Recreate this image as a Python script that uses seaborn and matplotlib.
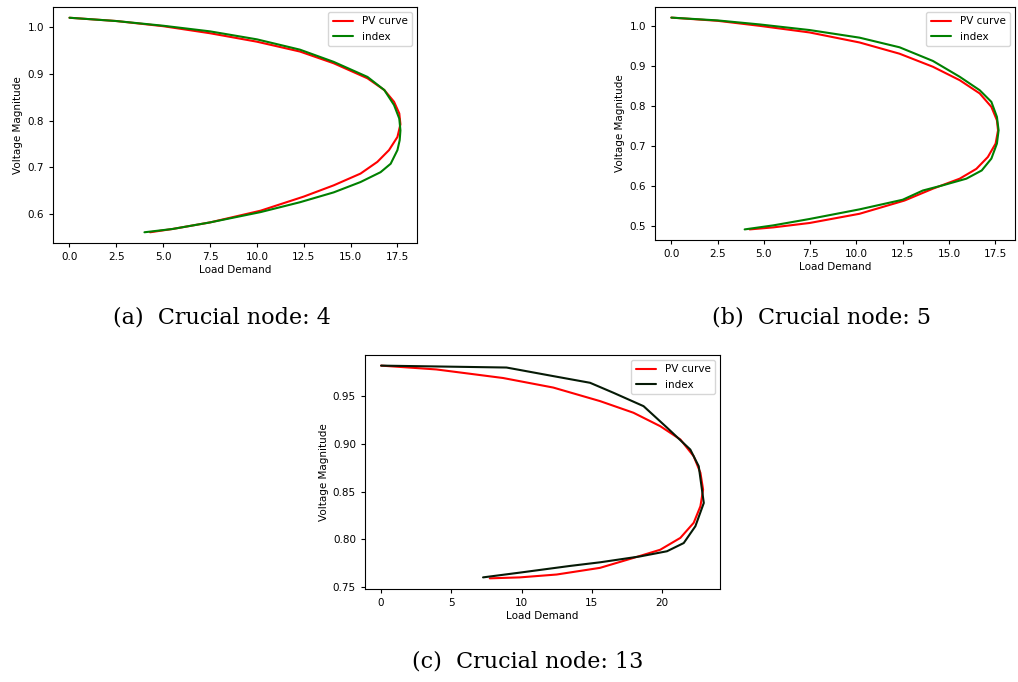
import pandas as pd
import numpy as np
import matplotlib
matplotlib.use("Agg")
import matplotlib.pyplot as plt
import seaborn as sns

# %% data
# (a) crucial node 4
a_pv_x = [0, 2.5, 5.0, 7.5, 10.0, 12.3, 14.1, 15.9, 16.8, 17.32, 17.6, 17.66, 17.5, 17.05, 16.43, 15.53,
          14.1, 12.5, 10.2, 7.5, 5.5, 4.3]
a_pv_y = [1.019, 1.012, 1.001, 0.986, 0.968, 0.947, 0.922, 0.890, 0.865, 0.840, 0.815, 0.792, 0.765, 0.737, 0.712, 0.687,
          0.662, 0.638, 0.608, 0.583, 0.569, 0.562]
a_ix_x = [0, 2.5, 5.0, 7.5, 10.0, 12.3, 14.1, 15.9, 16.8, 17.32, 17.6, 17.66, 17.62, 17.5, 17.14, 16.6,
          15.53, 14.1, 12.3, 10.2, 7.5, 5.5, 4.0]
a_ix_y = [1.019, 1.012, 1.002, 0.990, 0.973, 0.951, 0.925, 0.893, 0.865, 0.833, 0.804, 0.779, 0.758, 0.737, 0.708, 0.690,
          0.669, 0.647, 0.626, 0.605, 0.583, 0.569, 0.562]

# (b) crucial node 5
b_pv_x = [0, 2.5, 4.77, 7.47, 10.17, 12.33, 14.13, 15.58, 16.66, 17.29, 17.59, 17.65, 17.52, 17.1, 16.48, 15.58,
          14.13, 12.6, 10.17, 7.47, 5.5, 4.23]
b_pv_y = [1.02, 1.012, 0.9995, 0.983, 0.958, 0.930, 0.8975, 0.864, 0.831, 0.7975, 0.764, 0.739, 0.706, 0.6725, 0.643, 0.6185,
          0.5935, 0.564, 0.531, 0.508, 0.497, 0.492]
b_ix_x = [0, 2.5, 4.77, 7.47, 10.17, 12.33, 14.13, 15.58, 16.66, 17.29, 17.59, 17.68, 17.59, 17.29, 16.77, 15.94,
          14.67, 13.59, 12.5, 10.17, 7.47, 5.5, 3.96]
b_ix_y = [1.02, 1.013, 1.003, 0.989, 0.970, 0.946, 0.912, 0.8725, 0.839, 0.810, 0.7725, 0.739, 0.706, 0.6685, 0.639, 0.6185,
          0.602, 0.589, 0.566, 0.542, 0.518, 0.502, 0.492]

# (c) crucial node 13
c_pv_x = [0, 3.93, 8.69, 12.26, 15.59, 17.97, 19.88, 21.31, 22.26, 22.74, 22.93, 22.74, 22.26, 21.31, 19.88, 17.97,
          15.59, 12.5, 9.88, 7.74]
c_pv_y = [0.982, 0.978, 0.969, 0.959, 0.9448, 0.9326, 0.9185, 0.9046, 0.887, 0.8696, 0.852, 0.8346, 0.8172, 0.8014, 0.789, 0.7804,
          0.770, 0.763, 0.760, 0.759]
c_ix_x = [0, 8.93, 12.26, 14.88, 16.55, 18.69, 20.36, 22.02, 22.62, 22.98, 22.38, 21.55, 20.36, 18.45, 15.59, 13.45,
          9.88, 7.26]
c_ix_y = [0.982, 0.980, 0.971, 0.964, 0.9535, 0.9395, 0.917, 0.894, 0.8765, 0.838, 0.8136, 0.796, 0.7874, 0.782, 0.7758, 0.772,
          0.765, 0.760]

series_names = ["PV curve", "index"]
captions = ["(a)  Crucial node: 4", "(b)  Crucial node: 5", "(c)  Crucial node: 13"]

# %%
sns.set_style("ticks")
plt.rcParams["font.family"] = ["DejaVu Sans"]
plt.rcParams["text.color"] = "black"
plt.rcParams["axes.labelcolor"] = "black"


def make_df(pv_x, pv_y, ix_x, ix_y):
    d1 = pd.DataFrame({"x": pv_x, "y": pv_y, "series": series_names[0]})
    d2 = pd.DataFrame({"x": ix_x, "y": ix_y, "series": series_names[1]})
    return pd.concat([d1, d2], ignore_index=True)


panels = [
    (make_df(a_pv_x, a_pv_y, a_ix_x, a_ix_y), [0.052, 0.6437, 0.3576, 0.346], "green"),
    (make_df(b_pv_x, b_pv_y, b_ix_x, b_ix_y), [0.6434, 0.6481, 0.3536, 0.3416], "green"),
    (make_df(c_pv_x, c_pv_y, c_ix_x, c_ix_y), [0.3585, 0.1364, 0.3487, 0.3431], "#061a06"),
]

fig = plt.figure(figsize=(10.18, 6.82), dpi=100)

for df, rect, ix_col in panels:
    ax = fig.add_axes(rect)
    sns.lineplot(data=df, x="x", y="y", hue="series", hue_order=series_names,
                 palette={"PV curve": "red", "index": ix_col},
                 sort=False, estimator=None, linewidth=1.5, ax=ax)
    for s in ax.spines.values():
        s.set_color("black")
        s.set_linewidth(0.8)
    ax.tick_params(labelsize=7.5, length=3, width=0.8, colors="black")
    ax.set_xlabel("Load Demand", fontsize=7.5, labelpad=2)
    ax.set_ylabel("Voltage Magnitude", fontsize=7.5, labelpad=3)
    handles, labels = ax.get_legend_handles_labels()
    ax.legend(handles, labels, loc="upper right", fontsize=7.5, frameon=True,
              edgecolor="0.8", fancybox=True, handlelength=2.0)

# captions under each panel
fig.text(0.218, 0.534, captions[0], ha="center", va="center", fontsize=16, family="DejaVu Serif")
fig.text(0.807, 0.534, captions[1], ha="center", va="center", fontsize=16, family="DejaVu Serif")
fig.text(0.518, 0.030, captions[2], ha="center", va="center", fontsize=16, family="DejaVu Serif")

fig.savefig("out.png", dpi=100)
